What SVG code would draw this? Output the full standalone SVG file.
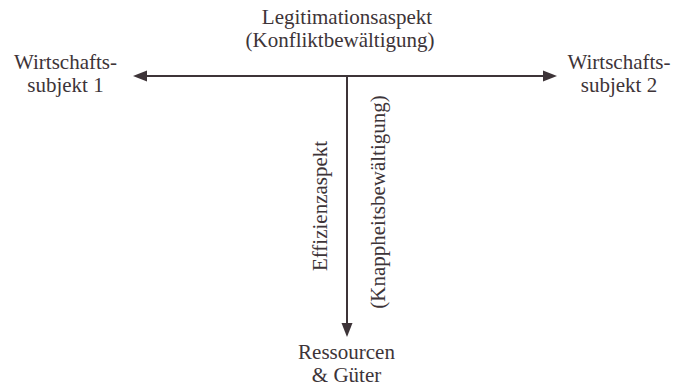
<svg xmlns="http://www.w3.org/2000/svg" width="679" height="387" viewBox="0 0 679 387">
<style>
text{font-family:"Liberation Serif",serif;font-size:21px;fill:#3d3438;text-anchor:middle}
.ln{stroke:#3d3438;stroke-width:2;fill:none}
.ah{fill:#3d3438}
</style>
<rect width="679" height="387" fill="#fff"/>
<g id="connectors">
<line class="ln" x1="347" y1="76" x2="145" y2="76"/>
<path class="ah" d="M133,76 L147,70.5 L147,81.5 z"/>
<line class="ln" x1="347" y1="76" x2="545" y2="76"/>
<path class="ah" d="M557,76 L543,70.5 L543,81.5 z"/>
<line class="ln" x1="347" y1="76" x2="347" y2="325"/>
<path class="ah" d="M347,337 L341.5,323 L352.5,323 z"/>
</g>
<g id="legitimation"><text x="347" y="24">Legitimationsaspekt</text><text x="340" y="47">(Konfliktbewältigung)</text></g>
<g id="subjekt1"><text x="65.5" y="69">Wirtschafts-</text><text x="65.5" y="92">subjekt 1</text></g>
<g id="subjekt2"><text x="619" y="69">Wirtschafts-</text><text x="619" y="92">subjekt 2</text></g>
<g id="effizienz"><text transform="translate(327,206) rotate(-90)">Effizienzaspekt</text></g>
<g id="knappheit"><text transform="translate(385,202) rotate(-90)">(Knappheitsbewältigung)</text></g>
<g id="ressourcen"><text x="346.5" y="359">Ressourcen</text><text x="346.5" y="382">&amp; Güter</text></g>
</svg>
